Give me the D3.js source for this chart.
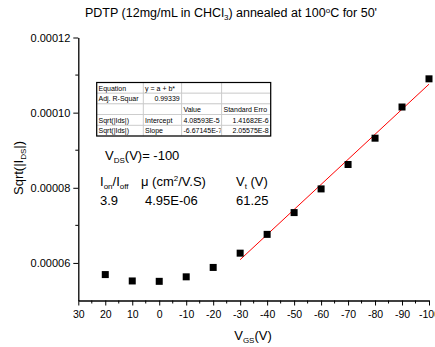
<!DOCTYPE html>
<html>
<head>
<meta charset="utf-8">
<script src="https://cdn.jsdelivr.net/npm/d3@7"></script>
<style>
  html, body { margin: 0; padding: 0; background: #fff; }
  svg { display: block; font-family: "Liberation Sans", Arial, sans-serif; }
</style>
</head>
<body>
<svg id="chart" width="435" height="347"></svg>
<script>
// Transfer curve: gate voltage vs sqrt(|Ids|)
const vgs = [20, 10, 0, -10, -20, -30, -40, -50, -60, -70, -80, -90, -100];
const sqrtIds = [5.69e-5, 5.52e-5, 5.51e-5, 5.63e-5, 5.88e-5, 6.26e-5, 6.76e-5,
                 7.34e-5, 7.97e-5, 8.62e-5, 9.32e-5, 10.15e-5, 10.90e-5];

// Linear fit y = a + b*x over the saturation region
const fitIntercept = 4.08593e-5;
const fitSlope = -6.67145e-7;
const fitRange = [-30, -100];

const xTicks = [30, 20, 10, 0, -10, -20, -30, -40, -50, -60, -70, -80, -90, -100];
const yTicks = [6e-5, 8e-5, 10e-5, 12e-5];
const yMinorTicks = [7e-5, 9e-5, 11e-5];

// Fit result table
const tableRows = [
  ["Equation", "y = a + b*", "", ""],
  ["Adj. R-Squar", "0.99339", "", ""],
  ["", "", "Value", "Standard Erro"],
  ["Sqrt(|Ids|)", "Intercept", "4.08593E-5", "1.41682E-6"],
  ["Sqrt(|Ids|)", "Slope", "-6.67145E-7", "2.05575E-8"]
];
const tableAlign = [
  ["start", "start", "start", "start"],
  ["start", "end", "start", "start"],
  ["start", "start", "start", "start"],
  ["start", "start", "end", "end"],
  ["start", "start", "start", "end"]
];

const svg = d3.select("#chart");
const m = { left: 78.3, right: 429, top: 37.5, bottom: 300.5 };

const x = d3.scaleLinear().domain([30, -100]).range([m.left, m.right]);
const y = d3.scaleLinear().domain([5e-5, 12e-5]).range([m.bottom, m.top]);

// Title
const title = svg.append("text")
  .attr("x", 231).attr("y", 17)
  .attr("text-anchor", "middle")
  .attr("font-size", 12.5);
title.append("tspan").text("PDTP (12mg/mL in CHCl");
title.append("tspan").attr("font-size", 8).attr("dy", 3).text("3");
title.append("tspan").attr("dy", -3).text(") annealed at 100");
title.append("tspan").attr("font-size", 8).attr("dy", -4.5).text("o");
title.append("tspan").attr("dy", 4.5).text("C for 50'");

// X axis
const xAxis = svg.append("g").attr("transform", `translate(0,${m.bottom})`);
xAxis.call(d3.axisBottom(x).tickValues(xTicks).tickSize(5).tickSizeOuter(0).tickFormat(d => String(d)));
xAxis.append("g").selectAll("line")
  .data(d3.range(25, -100, -10))
  .join("line")
  .attr("x1", d => x(d)).attr("x2", d => x(d))
  .attr("y1", 0).attr("y2", 3)
  .attr("stroke", "#000");

// Y axis
const yAxis = svg.append("g").attr("transform", `translate(${m.left},0)`);
yAxis.call(d3.axisLeft(y).tickValues(yTicks).tickSize(5).tickSizeOuter(0).tickFormat(d3.format(".5f")));
yAxis.append("g").selectAll("line")
  .data(yMinorTicks)
  .join("line")
  .attr("x1", 0).attr("x2", -3)
  .attr("y1", d => y(d)).attr("y2", d => y(d))
  .attr("stroke", "#000");

svg.selectAll(".domain").attr("stroke", "#000").attr("stroke-width", 1.3);
svg.selectAll(".tick line").attr("stroke", "#000");
svg.selectAll(".tick text")
  .attr("font-family", "Liberation Sans, Arial, sans-serif")
  .attr("fill", "#000");
xAxis.selectAll(".tick text").attr("font-size", 10.5).attr("dy", "0.9em");
yAxis.selectAll(".tick text").attr("font-size", 11);

// Axis titles
const xl = svg.append("text")
  .attr("x", 253).attr("y", 340)
  .attr("text-anchor", "middle")
  .attr("font-size", 13);
xl.append("tspan").text("V");
xl.append("tspan").attr("font-size", 8).attr("dy", 3).text("GS");
xl.append("tspan").attr("dy", -3).text("(V)");

const yl = svg.append("text")
  .attr("transform", "translate(23,168) rotate(-90)")
  .attr("text-anchor", "middle")
  .attr("font-size", 13);
yl.append("tspan").text("Sqrt(|I");
yl.append("tspan").attr("font-size", 8).attr("dy", 3).text("DS");
yl.append("tspan").attr("dy", -3).text("|)");

// Fit line
svg.append("line")
  .attr("x1", x(fitRange[0])).attr("y1", y(fitIntercept + fitSlope * fitRange[0]))
  .attr("x2", x(fitRange[1])).attr("y2", y(fitIntercept + fitSlope * fitRange[1]))
  .attr("stroke", "#ff0000").attr("stroke-width", 1);

// Data markers
const sz = 7;
svg.append("g").selectAll("rect")
  .data(vgs.map((v, i) => [v, sqrtIds[i]]))
  .join("rect")
  .attr("x", d => x(d[0]) - sz / 2)
  .attr("y", d => y(d[1]) - sz / 2)
  .attr("width", sz).attr("height", sz)
  .attr("fill", "#000");

// Results table
const colX = [96.7, 143.3, 181.7, 221.7, 270.7];
const rowY0 = 82.5, rowH = 10.7;
const tbl = svg.append("g");
const defs = svg.append("defs");
tableRows.forEach((row, r) => {
  row.forEach((txt, c) => {
    const cx0 = colX[c], cx1 = colX[c + 1];
    const cy0 = rowY0 + r * rowH;
    const id = `cell-${r}-${c}`;
    defs.append("clipPath").attr("id", id)
      .append("rect").attr("x", cx0 + 0.5).attr("y", cy0).attr("width", cx1 - cx0 - 1.5).attr("height", rowH);
    tbl.append("rect")
      .attr("x", cx0).attr("y", cy0).attr("width", cx1 - cx0).attr("height", rowH)
      .attr("fill", "#fff").attr("stroke", "#c8c8c8").attr("stroke-width", 0.8);
    if (txt) {
      const anchor = tableAlign[r][c];
      tbl.append("text")
        .attr("clip-path", `url(#${id})`)
        .attr("x", anchor === "end" ? cx1 - 2 : cx0 + 1.8)
        .attr("y", cy0 + rowH - 2.6)
        .attr("text-anchor", anchor)
        .attr("font-size", 7)
        .attr("fill", "#000")
        .text(txt);
    }
  });
});
tbl.append("rect")
  .attr("x", colX[0]).attr("y", rowY0)
  .attr("width", colX[4] - colX[0]).attr("height", rowH * tableRows.length)
  .attr("fill", "none").attr("stroke", "#000").attr("stroke-width", 1.2);

// Device parameters
const ann = svg.append("g").attr("font-size", 13).attr("fill", "#000");
const vds = ann.append("text").attr("x", 105).attr("y", 160);
vds.append("tspan").text("V");
vds.append("tspan").attr("font-size", 8).attr("dy", 3).text("DS");
vds.append("tspan").attr("dy", -3).text("(V)= -100");

const ion = ann.append("text").attr("x", 100).attr("y", 186);
ion.append("tspan").text("I");
ion.append("tspan").attr("font-size", 8).attr("dy", 3).text("on");
ion.append("tspan").attr("dy", -3).text("/I");
ion.append("tspan").attr("font-size", 8).attr("dy", 3).text("off");

const mu = ann.append("text").attr("x", 141).attr("y", 186);
mu.append("tspan").text("\u03bc (cm");
mu.append("tspan").attr("font-size", 8).attr("dy", -5).text("2");
mu.append("tspan").attr("dy", 5).text("/V.S)");

const vt = ann.append("text").attr("x", 236).attr("y", 186);
vt.append("tspan").text("V");
vt.append("tspan").attr("font-size", 8).attr("dy", 3).text("t");
vt.append("tspan").attr("dy", -3).text(" (V)");

ann.append("text").attr("x", 100).attr("y", 205).text("3.9");
ann.append("text").attr("x", 145).attr("y", 205).text("4.95E-06");
ann.append("text").attr("x", 236).attr("y", 205).text("61.25");
</script>
</body>
</html>
